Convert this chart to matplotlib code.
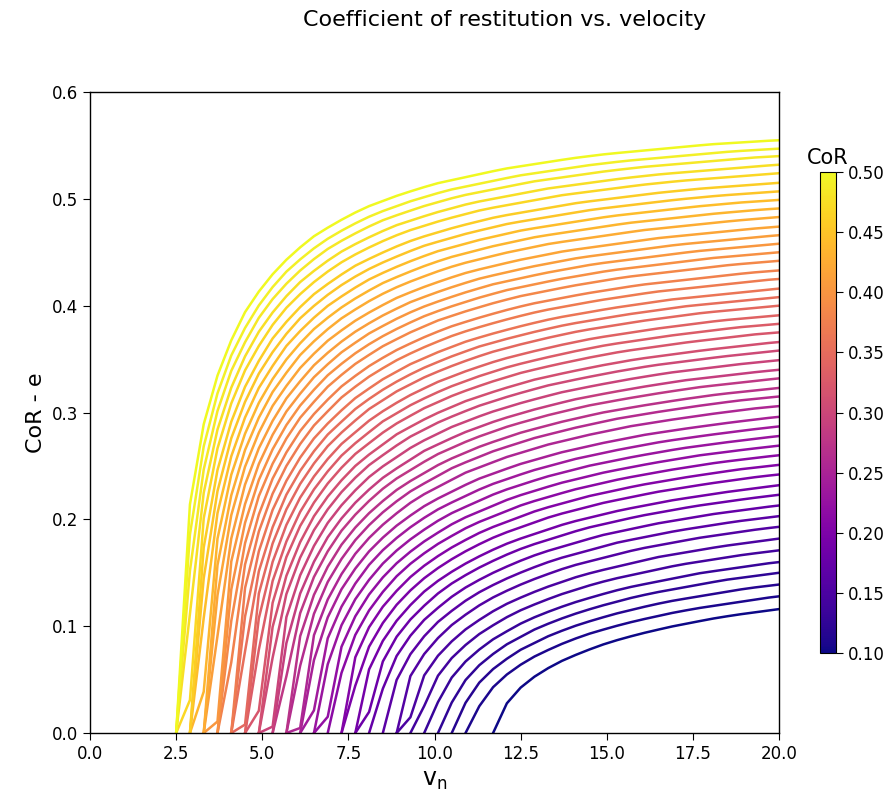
import numpy as np
import matplotlib
matplotlib.use("Agg")
import matplotlib.pyplot as plt
from matplotlib import cm, colors

# CoR level of every curve (colour scale), lowest first
cor_levels = np.linspace(0.1, 0.5, 50)

# velocity where each curve leaves e = 0
v_onset = [11.80, 11.10, 10.68, 10.31, 9.93, 9.57, 9.23, 8.90, 8.59, 8.30,
           8.03, 7.77, 7.53, 7.30, 7.07, 6.86, 6.65, 6.45, 6.26, 6.09,
           5.92, 5.75, 5.59, 5.44, 5.29, 5.14, 5.00, 4.87, 4.74, 4.61,
           4.49, 4.37, 4.25, 4.13, 4.02, 3.91, 3.80, 3.69, 3.58, 3.47,
           3.37, 3.27, 3.17, 3.07, 2.98, 2.88, 2.79, 2.70, 2.61, 2.52]

# e at v_n = 20
e_at_20 = [0.116, 0.128, 0.139, 0.150, 0.160, 0.171, 0.182, 0.193, 0.203, 0.213,
           0.223, 0.232, 0.242, 0.251, 0.260, 0.269, 0.278, 0.287, 0.296, 0.306,
           0.315, 0.323, 0.332, 0.340, 0.349, 0.358, 0.366, 0.375, 0.383, 0.391,
           0.400, 0.408, 0.416, 0.425, 0.433, 0.442, 0.450, 0.458, 0.466, 0.474,
           0.483, 0.491, 0.499, 0.507, 0.515, 0.524, 0.532, 0.540, 0.547, 0.555]

# rise of the CoR = 0.5 curve, used as the shape for the whole family
top_v = [2.52, 2.56, 2.62, 2.70, 2.80, 2.95, 3.15, 3.30, 3.45, 3.60, 3.85, 4.0,
         4.5, 5.0, 5.5, 6.0, 6.5, 7.0, 7.5, 8.0, 9.0, 10.0, 11.0, 12.0,
         13.0, 14.0, 15.0, 16.0, 17.0, 18.0, 19.0, 20.0]
top_e = [0.0, 0.074, 0.116, 0.153, 0.188, 0.227, 0.266, 0.289, 0.308, 0.325, 0.349, 0.361,
         0.394, 0.418, 0.437, 0.452, 0.465, 0.475, 0.484, 0.492, 0.504, 0.514, 0.521, 0.528,
         0.533, 0.538, 0.542, 0.545, 0.548, 0.551, 0.553, 0.555]

# velocity samples
v_step = 0.4
v_grid = np.arange(0.1, 20.2, v_step)


def cor_curve(v0, e_end):
    # stretch the reference rise so it starts at v0 and ends at e_end
    u = v_grid * top_v[0] / v0
    e = np.interp(u, top_v, top_e)
    e = e * e_end / np.interp(20.0 * top_v[0] / v0, top_v, top_e)
    first = int(np.argmax(e > 0))
    return v_grid[first - 1:], e[first - 1:]


norm = colors.Normalize(vmin=0.1, vmax=0.5)
cmap = plt.get_cmap("plasma")

fig = plt.figure(figsize=(8.95, 7.96), dpi=100)
ax = fig.add_axes([0.1006, 0.0791, 0.7698, 0.8053])

for c, v0, e_end in zip(cor_levels, v_onset, e_at_20):
    v, e = cor_curve(v0, e_end)
    ax.plot(v, e, color=cmap(norm(c)), lw=1.8)

ax.set_xlim(0, 20)
ax.set_ylim(0, 0.6)
ax.set_xticks(np.arange(0, 20.1, 2.5))
ax.set_xlabel(r"v$_\mathrm{n}$", fontsize=17)
ax.set_ylabel("CoR - e", fontsize=16)
ax.tick_params(labelsize=12, length=5)
for s in ax.spines.values():
    s.set_linewidth(1.0)

fig.text(0.564, 0.975, "Coefficient of restitution vs. velocity",
         ha="center", va="center", fontsize=16)

cax = fig.add_axes([0.9162, 0.1796, 0.0179, 0.6043])
sm = cm.ScalarMappable(norm=norm, cmap=cmap)
cb = fig.colorbar(sm, cax=cax)
cb.ax.tick_params(labelsize=12, length=5)
cb.ax.set_title("CoR", fontsize=15)

fig.savefig("out.png", dpi=100)
